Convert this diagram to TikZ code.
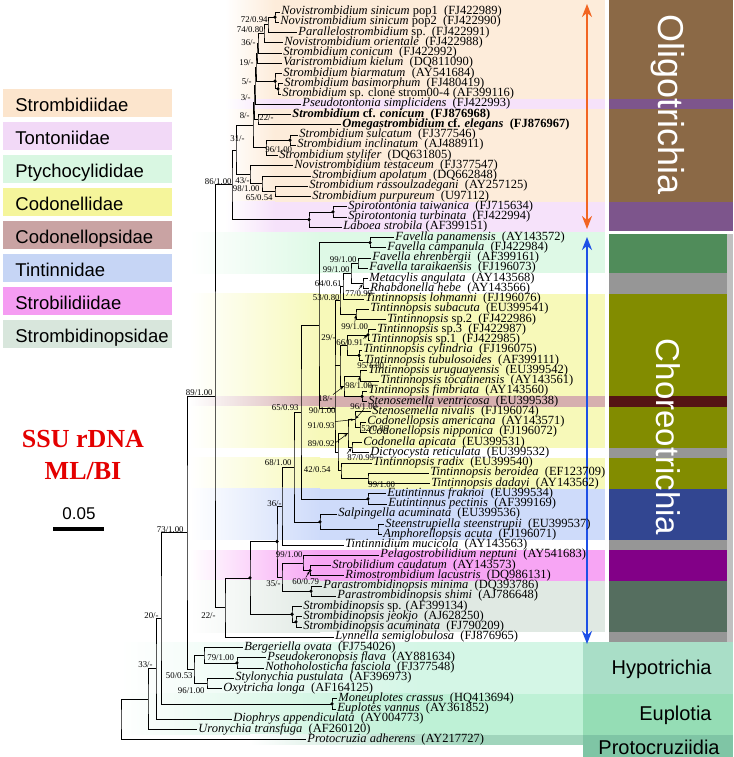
\documentclass[tikz,border=0pt]{standalone}
\usepackage{fontspec}
\setmainfont{Liberation Serif}
\newfontfamily\arialfont{Liberation Sans}
\usetikzlibrary{arrows.meta, positioning}
% family colours: legend box, tree band, side bar
\definecolor{StrombLeg}{RGB}{252,229,205}
\definecolor{StrombBand}{RGB}{253,236,218}
\definecolor{TontoLeg}{RGB}{242,217,247}
\definecolor{TontoBand}{RGB}{246,226,250}
\definecolor{PtychoLeg}{RGB}{217,247,226}
\definecolor{PtychoBand}{RGB}{222,249,230}
\definecolor{CodoLeg}{RGB}{245,245,155}
\definecolor{CodoBand}{RGB}{247,249,185}
\definecolor{CodopsLeg}{RGB}{201,163,163}
\definecolor{CodopsBand}{RGB}{214,175,175}
\definecolor{TintLeg}{RGB}{198,213,245}
\definecolor{TintBand}{RGB}{206,219,250}
\definecolor{StrobLeg}{RGB}{245,156,242}
\definecolor{StrobBand}{RGB}{247,165,244}
\definecolor{SnopLeg}{RGB}{216,230,220}
\definecolor{SnopBand}{RGB}{224,233,227}
\definecolor{OligoBrown}{RGB}{139,105,70}
\definecolor{TontoDark}{RGB}{125,85,140}
\definecolor{PtychoDark}{RGB}{80,140,90}
\definecolor{CodoDark}{RGB}{130,140,0}
\definecolor{CodopsDark}{RGB}{85,20,20}
\definecolor{TintDark}{RGB}{50,70,145}
\definecolor{StrobDark}{RGB}{130,0,135}
\definecolor{SnopDark}{RGB}{85,110,95}
\definecolor{GapGrey}{RGB}{150,150,150}
\definecolor{HypoBand}{RGB}{212,246,230}
\definecolor{HypoDark}{RGB}{169,222,199}
\definecolor{EuploBand}{RGB}{190,241,214}
\definecolor{EuploDark}{RGB}{149,221,181}
\definecolor{ProtoBand}{RGB}{160,213,188}
\definecolor{ProtoDark}{RGB}{127,197,165}
\definecolor{OligoArrow}{RGB}{242,101,34}
\definecolor{ChoreoArrow}{RGB}{30,80,230}
\definecolor{TitleRed}{RGB}{228,0,0}

\newcommand{\rowtop}[1]{6.875+10.25*(#1-1)}
% rows #1--#2 in colour #3, fading in from #4 to #5, ending at #6
\newcommand{\band}[6]{%
  \shade[left color=white, right color=#3] (#4,{\rowtop{#1}}) rectangle (#5,{\rowtop{#2}+10.25});
  \fill[#3] (#5,{\rowtop{#1}}) rectangle (#6,{\rowtop{#2}+10.25});}
\newcommand{\rowblock}[4]{\fill[#3] (609,{\rowtop{#1}}) rectangle (#4,{\rowtop{#2}+10.25});}
\newcommand{\clade}[3]{\draw (#2) -| (#1) |- (#3);}

\begin{document}
\begin{tikzpicture}[x=1pt, y=-1pt, line width=0.8pt,
    leaf/.style={anchor=west, inner xsep=1.5pt, inner ysep=0pt, text height=6.9pt, text depth=1.5pt,
      font=\fontsize{12.5}{12.5}\selectfont},
    sup/.style={inner sep=0pt, text height=6pt, text depth=0pt, font=\fontsize{8.8}{8.8}\selectfont},
    famtext/.style={anchor=base west, inner sep=0pt, font=\arialfont\fontsize{18.5}{18.5}\selectfont},
    ordtext/.style={inner sep=0pt, font=\arialfont\fontsize{20}{20}\selectfont},
    ptr/.style={-{Stealth[length=3.5pt, width=2.6pt]}, line width=0.5pt, shorten >=0.8pt},
    bigarrow/.style={line width=2.6pt, {Stealth[length=13pt, width=10pt]}-{Stealth[length=13pt, width=10pt]}}]
  \useasboundingbox (0,0) rectangle (733,757);

  % coloured bands behind the taxa
  \shade[left color=white, right color=StrombBand] (225,0) rectangle (275,{\rowtop{1}});
  \fill[StrombBand] (275,0) rectangle (605,{\rowtop{1}});
  \band{1}{9}{StrombBand}{225}{275}{605}
  \band{10}{10}{TontoBand}{225}{275}{605}
  \band{11}{19}{StrombBand}{225}{275}{605}
  \band{20}{22}{TontoBand}{225}{275}{605}
  \band{23}{26}{PtychoBand}{190}{320}{605}
  \band{29}{38}{CodoBand}{190}{320}{605}
  \band{39}{39}{CodopsBand}{190}{320}{605}
  \band{40}{43}{CodoBand}{190}{320}{605}
  \band{45}{47}{CodoBand}{190}{320}{605}
  \band{48}{52}{TintBand}{190}{320}{605}
  \band{54}{56}{StrobBand}{190}{320}{605}
  \band{57}{61}{SnopBand}{190}{320}{605}
  \band{63}{67}{HypoBand}{120}{420}{583}
  \band{68}{71}{EuploBand}{120}{420}{583}
  \band{72}{72}{ProtoBand}{250}{470}{583}

  % side bars
  \fill[OligoBrown] (609,0) rectangle (733,{\rowtop{10}});
  \rowblock{10}{10}{TontoDark}{733}
  \rowblock{11}{19}{OligoBrown}{733}
  \fill[TontoDark] (609,{\rowtop{20}}) rectangle (733,231.2);
  \fill[PtychoDark] (609,233.6) rectangle (727,{\rowtop{27}});
  \rowblock{27}{28}{GapGrey}{727}
  \rowblock{29}{38}{CodoDark}{727}
  \rowblock{39}{39}{CodopsDark}{727}
  \rowblock{40}{43}{CodoDark}{727}
  \rowblock{44}{44}{GapGrey}{727}
  \rowblock{45}{47}{CodoDark}{727}
  \rowblock{48}{52}{TintDark}{727}
  \rowblock{53}{53}{GapGrey}{727}
  \rowblock{54}{56}{StrobDark}{727}
  \rowblock{57}{61}{SnopDark}{727}
  \rowblock{62}{62}{GapGrey}{727}
  \fill[GapGrey!60] (727,233.6) rectangle (733,{\rowtop{63}});
  \fill[HypoDark] (583,{\rowtop{63}}) rectangle (733,{\rowtop{68}});
  \fill[EuploDark] (583,{\rowtop{68}}) rectangle (733,{\rowtop{72}});
  \fill[ProtoDark] (583,{\rowtop{72}}) rectangle (733,757);

  \node[rotate=-90, text=white, inner sep=0pt, font=\arialfont\fontsize{36}{36}\selectfont] (oligo) at (668,105) {Oligotrichia};
  \node[rotate=-90, text=white, inner sep=0pt, font=\arialfont\fontsize{33}{33}\selectfont] (choreo) at (668,437) {Choreotrichia};
  \node[ordtext, anchor=east] (hypo) at (712,669) {Hypotrichia};
  \node[ordtext, anchor=east] (euplo) at (712,715) {Euplotia};
  \node[ordtext] (proto) at (659,747) {Protocruziidia};

  % subclass ranges
  \coordinate (oTop) at (587,4);
  \coordinate (oBot) at (587,229);
  \coordinate (cTop) at (587,237);
  \coordinate (cBot) at (587,644);
  \draw[bigarrow, OligoArrow] (oTop) -- (oBot);
  \draw[bigarrow, ChoreoArrow] (cTop) -- (cBot);

  % legend
  \foreach \fam/\col [count=\k from 0] in {Strombidiidae/StrombLeg, Tontoniidae/TontoLeg,
      Ptychocylididae/PtychoLeg, Codonellidae/CodoLeg, Codonellopsidae/CodopsLeg,
      Tintinnidae/TintLeg, Strobilidiidae/StrobLeg, Strombidinopsidae/SnopLeg} {
    \fill[\col] (3,{89+33*\k}) rectangle (172,{117+33*\k});
    \node[famtext] (fam\k) at (15,{111.5+33*\k}) {\fam};
  }
  \node[text=TitleRed, align=center, font=\bfseries\fontsize{26}{32}\selectfont] (title) at (83,455) {SSU rDNA\\ML/BI};
  \node[inner sep=0pt, font=\arialfont\fontsize{17}{17}\selectfont] (scalelab) at (79,514) {0.05};
  \coordinate (sbL) at (53,529);
  \coordinate (sbR) at (104,529);
  \draw[line width=4pt] (sbL) -- (sbR);

  % taxa
  \foreach \i/\x/\txt in {
    1/281/{\textit{Novistrombidium sinicum} pop1\ \ (FJ422989)},
    2/280/{\textit{Novistrombidium sinicum} pop2\ \ (FJ422990)},
    3/298/{\textit{Parallelostrombidium} sp.\ \ (FJ422991)},
    4/284/{\textit{Novistrombidium orientale}\ \ (FJ422988)},
    5/283/{\textit{Strombidium conicum}\ \ (FJ422992)},
    6/283/{\textit{Varistrombidium kielum}\ \ (DQ811090)},
    7/283/{\textit{Strombidium biarmatum}\ \ (AY541684)},
    8/284/{\textit{Strombidium basimorphum}\ \ (FJ480419)},
    9/282/{\textit{Strombidium} sp. clone strom00-4 (AF399116)},
    10/302/{\textit{Pseudotontonia simplicidens}\ \ (FJ422993)},
    11/292/{\textbf{\textit{Strombidium} cf. \textit{conicum}\ \ (FJ876968)}},
    12/342/{\textbf{\textit{Omegastrombidium} cf. \textit{elegans}\ \ (FJ876967)}},
    13/299/{\textit{Strombidium sulcatum}\ \ (FJ377546)},
    14/297/{\textit{Strombidium inclinatum}\ \ (AJ488911)},
    15/279/{\textit{Strombidium stylifer}\ \ (DQ631805)},
    16/294/{\textit{Novistrombidium testaceum}\ \ (FJ377547)},
    17/312/{\textit{Strombidium apolatum}\ \ (DQ662848)},
    18/309/{\textit{Strombidium rassoulzadegani}\ \ (AY257125)},
    19/312/{\textit{Strombidium purpureum}\ \ (U97112)},
    20/348/{\textit{Spirotontonia taiwanica}\ \ (FJ715634)},
    21/348/{\textit{Spirotontonia turbinata}\ \ (FJ422994)},
    22/343/{\textit{Laboea strobila} (AF399151)},
    23/395/{\textit{Favella panamensis}\ \ (AY143572)},
    24/387/{\textit{Favella campanula}\ \ (FJ422984)},
    25/372/{\textit{Favella ehrenbergii}\ \ (AF399161)},
    26/369/{\textit{Favella taraikaensis}\ \ (FJ196073)},
    27/369/{\textit{Metacylis angulata}\ \ (AY143568)},
    28/370/{\textit{Rhabdonella hebe}\ \ (AY143566)},
    29/365/{\textit{Tintinnopsis lohmanni}\ \ (FJ196076)},
    30/370/{\textit{Tintinnopsis subacuta}\ \ (EU399541)},
    31/387/{\textit{Tintinnopsis} sp.2\ \ (FJ422986)},
    32/377/{\textit{Tintinnopsis} sp.3\ \ (FJ422987)},
    33/371/{\textit{Tintinnopsis} sp.1\ \ (FJ422985)},
    34/363/{\textit{Tintinnopsis cylindria}\ \ (FJ196075)},
    35/364/{\textit{Tintinnopsis tubulosoides}\ \ (AF399111)},
    36/368/{\textit{Tintinnopsis uruguayensis}\ \ (EU399542)},
    37/380/{\textit{Tintinnopsis tocatinensis}\ \ (AY143561)},
    38/368/{\textit{Tintinnopsis fimbriata}\ \ (AY143560)},
    39/368/{\textit{Stenosemella ventricosa}\ \ (EU399538)},
    40/372/{\textit{Stenosemella nivalis}\ \ (FJ196074)},
    41/367/{\textit{Codonellopsis americana}\ \ (AY143571)},
    42/368/{\textit{Codonellopsis nipponica}\ \ (FJ196072)},
    43/363/{\textit{Codonella apicata}\ \ (EU399531)},
    44/370/{\textit{Dictyocysta reticulata}\ \ (EU399532)},
    45/373/{\textit{Tintinnopsis radix}\ \ (EU399540)},
    46/430/{\textit{Tintinnopsis beroidea}\ \ (EF123709)},
    47/431/{\textit{Tintinnopsis dadayi}\ \ (AY143562)},
    48/387/{\textit{Eutintinnus fraknoi}\ \ (EU399534)},
    49/388/{\textit{Eutintinnus pectinis}\ \ (AF399169)},
    50/338/{\textit{Salpingella acuminata}\ \ (EU399536)},
    51/385/{\textit{Steenstrupiella steenstrupii}\ \ (EU399537)},
    52/383/{\textit{Amphorellopsis acuta}\ \ (FJ196071)},
    53/345/{\textit{Tintinnidium mucicola}\ \ (AY143563)},
    54/380/{\textit{Pelagostrobilidium neptuni}\ \ (AY541683)},
    55/332/{\textit{Strobilidium caudatum}\ \ (AY143573)},
    56/345/{\textit{Rimostrombidium lacustris}\ \ (DQ986131)},
    57/323/{\textit{Parastrombidinopsis minima}\ \ (DQ393786)},
    58/337/{\textit{Parastrombidinopsis shimi}\ \ (AJ786648)},
    59/303/{\textit{Strombidinopsis} sp. (AF399134)},
    60/303/{\textit{Strombidinopsis jeokjo}\ \ (AJ628250)},
    61/303/{\textit{Strombidinopsis acuminata}\ \ (FJ790209)},
    62/335/{\textit{Lynnella semiglobulosa}\ \ (FJ876965)},
    63/244/{\textit{Bergeriella ovata}\ \ (FJ754026)},
    64/267/{\textit{Pseudokeronopsis flava}\ \ (AY881634)},
    65/265/{\textit{Nothoholosticha fasciola}\ \ (FJ377548)},
    66/235/{\textit{Stylonychia pustulata}\ \ (AF396973)},
    67/223/{\textit{Oxytricha longa}\ \ (AF164125)},
    68/338/{\textit{Moneuplotes crassus}\ \ (HQ413694)},
    69/337/{\textit{Euplotes vannus}\ \ (AY361852)},
    70/233/{\textit{Diophrys appendiculata}\ \ (AY004773)},
    71/198/{\textit{Uronychia transfuga}\ \ (AF260120)},
    72/307/{\textit{Protocruzia adherens}\ \ (AY217727)}} {
    \coordinate (t\i) at ({\x-1.5},{12+10.25*(\i-1)});
    \node[leaf] (l\i) at (t\i) {\txt};
  }

  % internal nodes
  \foreach \n/\x/\y in {A/275/17.1, B/268/24.8, C/264/33.8, D/258/43.4, G/257/53.3,
      E/278/88.9, F/275/81.2, H/256/67.3, I/255/85.8, K/258/119.6, J/254/102.7,
      S/290/140.1, N96/266/147.8, W/253/125.3, R65/275/191.4, R98/262/183.7,
      R43/250/174.7, M31/236/150, Spi/333/211.9, T/309/219.6, O86/232/184.8,
      Fpc/370/242.6, Fet/358/263.1, MR/363/283.6, N99c/351/273.4, N64/343/286.2,
      Ts2/356/314.4, N53/340/300.3, S31/368/334.9, Tct/359/355.4, N66/347/345.1,
      Tut/360/375.9, FV/362/396.4, N18/344/386.1, N29/340/365.6, Cop/360/427.1,
      N96b/355/419.4, N87/352/447.6, N91/348/433.5, Nbd/368/478.4, N42/341/470.7,
      N89b/338/452.1, N90/335/408, N99b/319/325.3, Eut/368/498.9, N65/301/412.1,
      SA/378/529.6, Sal/320/521.9, N68/294/467, N36/282/506, Sc/310/570.6,
      N99s/303/562.9, Para/311/591.1, N35/282/577, CH/277/541.5, Sj/296/621.9,
      St/292/614.2, SS/250/577.9, N22/225/607.6, X89/215/396.2, Pk/237/662.9,
      N79/204/655.2, N96h/207/683.4, Hyp/194/669.3, N187/187/532.8, Eup/332/703.9,
      N161/161/618.3, N156/156/668.8, N148/148/699.2, Root/121/719.5}
    \coordinate (\n) at (\x,\y);

  % branches
  \foreach \p/\a/\b in {A/t1/t2, B/A/t3, C/B/t4, D/C/t5, G/D/t6, E/t8/t9, F/t7/E,
      H/G/F, I/H/t10, K/t11/t12, J/I/K, S/t13/t14, N96/S/t15, W/J/N96,
      R65/t18/t19, R98/t17/R65, R43/t16/R98, M31/W/R43, Spi/t20/t21, T/Spi/t22,
      O86/M31/T, Fpc/t23/t24, Fet/t25/t26, MR/t27/t28, N99c/Fet/MR, N64/N99c/t29,
      Ts2/t30/t31, N53/N64/Ts2, S31/t32/t33, Tct/t34/t35, N66/S31/Tct,
      Tut/t36/t37, FV/t38/t39, N18/Tut/FV, N29/N66/N18, Cop/t41/t42,
      N96b/t40/Cop, N87/t43/t44, N91/N96b/N87, Nbd/t46/t47, N42/t45/Nbd,
      N89b/N91/N42, N90/N53/N89b, N99b/Fpc/N90, Eut/t48/t49, N65/N99b/Eut,
      SA/t51/t52, Sal/t50/SA, N68/N65/Sal, N36/N68/t53, Sc/t55/t56,
      N99s/t54/Sc, Para/t57/t58, N35/N99s/Para, CH/N36/N35, Sj/t60/t61,
      St/t59/Sj, SS/CH/St, N22/SS/t62, X89/O86/N22, Pk/t64/t65, N79/t63/Pk,
      N96h/t66/t67, Hyp/N79/N96h, N187/X89/Hyp, Eup/t68/t69, N161/N187/Eup,
      N156/N161/t70, N148/N156/t71, Root/N148/t72}
    \clade{\p}{\a}{\b}
  \draw (N90 |- N29) -- (N29);

  % fully supported nodes
  \foreach \n in {A,E,F,S,Spi,T,Fpc,S31,Tct,FV,Eut,Sal,Sc,Para,CH,Sj,St,SS,Pk,Eup}
    \fill (\n) circle (1.8);

  % support values
  \foreach \nm/\x/\y/\ml/\bi in {sB/268/19.5/72/0.94, sC/264/29.5/74/0.80,
      sD/256/43/36/-, sG/254/63/19/-, sH/252/82/5/-, sI/251/97.5/3/-,
      sJ/250/116/8/-, sM/245/138/31/-, sO/232/181/86/1.00, sR43/250/180/43/-,
      sR98/260/188/98/1.00, sR65/273/197/65/0.54, sFet/357/259.5/99/1.00,
      sN99c/350/269.5/99/1.00, sN64/342/283/64/0.61, sN53/340/297/53/0.80,
      sN29/336/337/29/-, sN18/333/398/18/-, sN90/336/410/90/1.00,
      sN91/335/425/91/0.93, sN89b/335/443/89/0.92, sN42/331/469/42/0.54,
      sN65/299/407/65/0.93, sN68/292/462/68/1.00, sN36/282/503/36/-,
      sN99s/303/554/99/1.00, sN35/281/583/35/-, sN22/216/615/22/-,
      sX89/213/392/89/1.00, sN187/184/529/73/1.00, sN161/159/615/20/-,
      sN156/153/664/33/-, sHyp/193/675/50/0.53, sN96h/205/690/96/1.00}
    \node[sup, anchor=east] (\nm) at (\x,\y) {\ml/\bi};
  \foreach \nm/\x/\y/\ml/\bi in {sK/259/118/22/-, sN96/265/149/96/1.00,
      sTct/357/365/95/1.00, sCop/361/428/52/0.86, sNbd/368/484/99/1.00,
      sN79/207/657/79/1.00, pMR/345/293/77/0.99, pTs/341/326/99/1.00,
      pS31/336/342/66/0.91, pTut/345/385/98/1.00, pN96b/350/406/96/1.00,
      pN87/347/457/87/0.99, p60/292/581/60/0.79}
    \node[sup, anchor=west] (\nm) at (\x,\y) {\ml/\bi};
  \foreach \a/\b in {pMR.north/MR, pTs.north/Ts2, pS31.north east/S31,
      pTut.north/Tut, pN96b.south/N96b, pN87.north west/N87, p60.north/Sc,
      sN18.north east/N18, sN91.north east/N96b, sN89b.east/N91}
    \draw[ptr] (\a) -- (\b);
\end{tikzpicture}
\end{document}
